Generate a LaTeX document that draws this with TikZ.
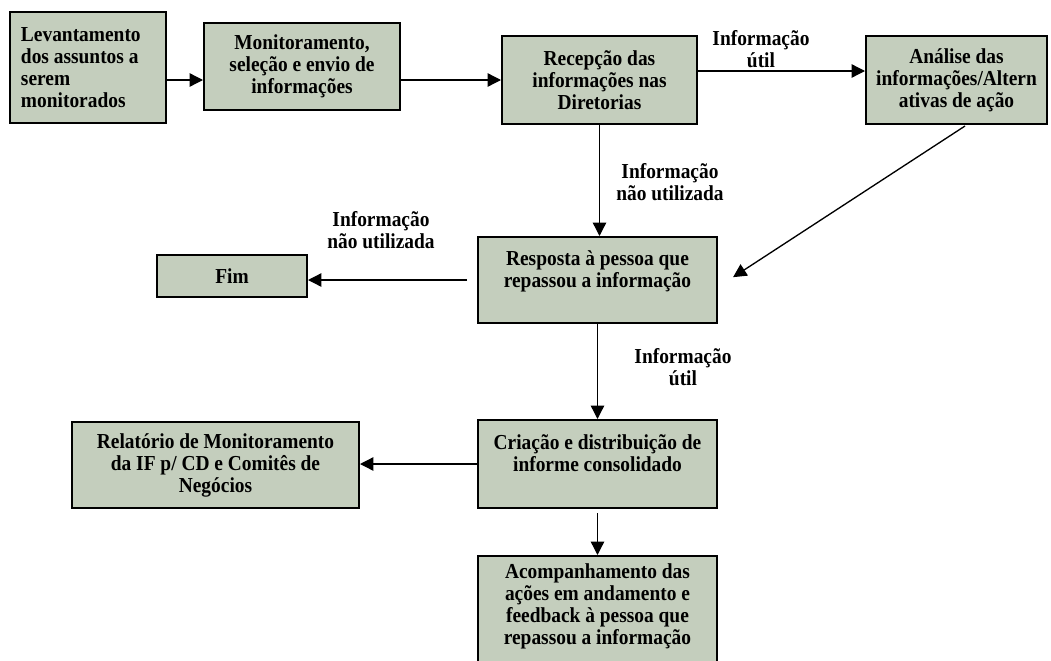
\documentclass[tikz,border=0pt]{standalone}
\usepackage{fontspec}
\setmainfont{Liberation Serif}[FakeStretch=0.91]
\usetikzlibrary{arrows.meta,calc}
\definecolor{boxgreen}{RGB}{196,206,189}

\begin{document}
\begin{tikzpicture}[x=0.75pt,y=-0.75pt,
  font=\bfseries\fontsize{16}{16.5}\selectfont,
  box/.style={draw=black,fill=boxgreen,line width=1.5pt,align=center,inner sep=0pt},
  arr/.style={-{Triangle[length=10pt,width=10pt]},line width=1pt},
  lbl/.style={align=center,inner sep=0pt}]
\useasboundingbox (0,0) rectangle (1051,661);

% first row
\node[box,minimum width=117pt,minimum height=83.25pt,text width=100.5pt,align=flush left] (lev) at (88,67.5) {Levantamento\\dos assuntos a\\serem\\monitorados};
\node[box,minimum width=147pt,minimum height=65.25pt] (mon) at (302,66.5) {Monitoramento,\\seleção e envio de\\informações};
\node[box,minimum width=146.25pt,minimum height=66pt] (rec) at (599.5,80) {Recepção das\\informações nas\\Diretorias};
\node[box,minimum width=135.75pt,minimum height=66pt] (ana) at (956.5,80) {Análise das\\informações/Altern\\ativas de ação};

% middle
\node[box,minimum width=179.25pt,minimum height=64.5pt] (res) at (597.5,280) {Resposta à pessoa que\\repassou a informação\\\mbox{}};
\node[box,minimum width=112.5pt,minimum height=31.5pt] (fim) at (232,276) {Fim};
\node[box,minimum width=179.25pt,minimum height=66pt] (cri) at (597.5,464) {Criação e distribuição de\\informe consolidado\\\mbox{}};
\node[box,minimum width=215.25pt,minimum height=64.5pt] (rel) at (215.5,465) {Relatório de Monitoramento\\da IF p/ CD e Comitês de\\Negócios};
\node[box,minimum width=179.25pt,inner ysep=6pt,anchor=north] (aco) at (597.5,555) {Acompanhamento das\\ações em andamento e\\feedback à pessoa que\\repassou a informação\\\mbox{}};

% labels
\node[lbl] (utilA) at (761,49) {Informação\\útil};
\node[lbl] (naoA) at (670,182) {Informação\\não utilizada};
\node[lbl] (naoB) at (381,230) {Informação\\não utilizada};
\node[lbl] (utilB) at (683,367) {Informação\\útil};

% arrows
\draw[arr] (lev.east |- rec.west) -- (mon.west |- rec.west);
\draw[arr] (mon.east |- rec.west) -- (rec.west);
\coordinate (utilOut) at ($(rec.east)+(0,-9)$);
\draw[arr] (utilOut) -- (utilOut -| ana.west);
\draw[arr] (rec.south) -- (rec.south |- res.north);
\draw[arr,shorten >=13.5pt] ($(ana.south)+(8.5,1)$) -- ($(res.east)+(0,7)$);
\draw[arr,shorten <=7.5pt] (res.west) -- (res.west -| fim.east);
\draw[arr] (res.south) -- (cri.north);
\draw[arr] (cri.west) -- (cri.west -| rel.east);
\draw[arr,shorten <=3pt] (cri.south) -- (aco.north);
\end{tikzpicture}
\end{document}
